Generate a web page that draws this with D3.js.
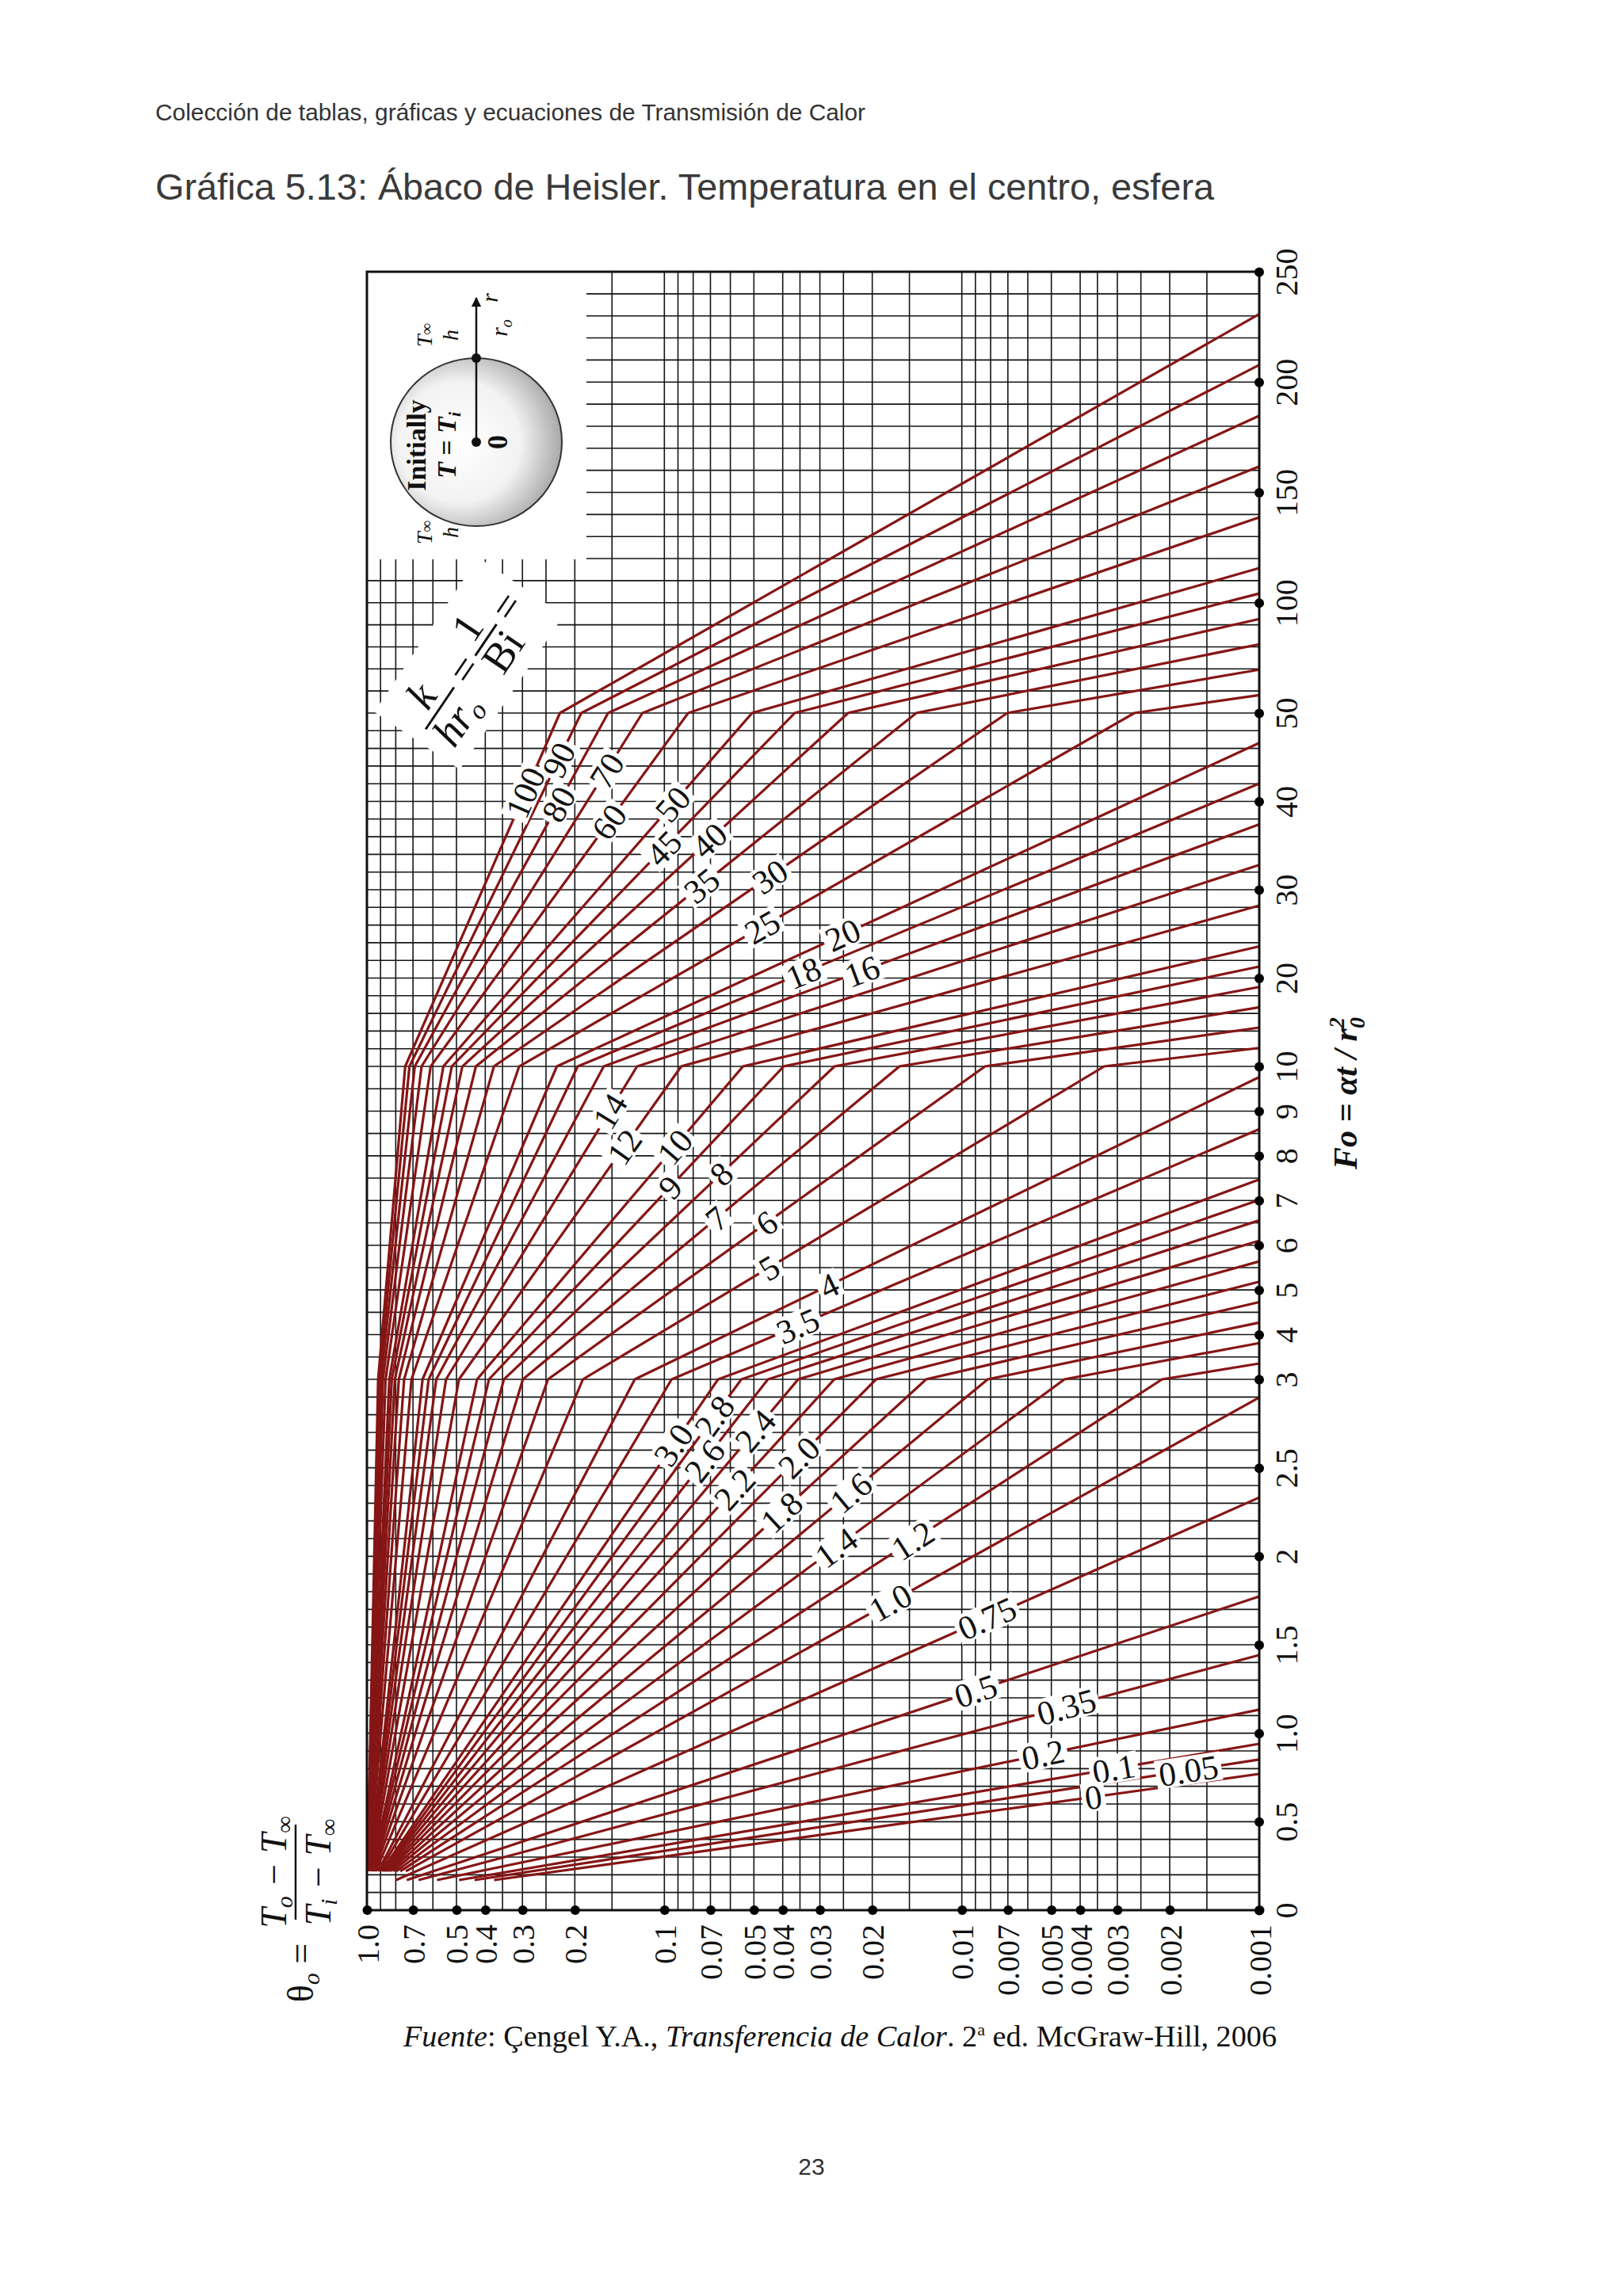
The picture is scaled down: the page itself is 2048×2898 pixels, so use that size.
<!DOCTYPE html>
<html><head><meta charset="utf-8">
<script src="https://cdn.jsdelivr.net/npm/d3@7"></script>
<style>body{margin:0;background:#fff}</style>
</head><body>
<svg id="c" width="2048" height="2898"></svg>
<script>
// ---- data ----
const biInv = [100,90,80,70,60,50,45,40,35,30,25,20,18,16,14,12,10,9,8,7,6,5,4,3.5,3.0,2.8,2.6,2.4,2.2,2.0,1.8,1.6,1.4,1.2,1.0,0.75,0.5,0.35,0.2,0.1,0.05,0];
const biLabels = ["100","90","80","70","60","50","45","40","35","30","25","20","18","16","14","12","10","9","8","7","6","5","4","3.5","3.0","2.8","2.6","2.4","2.2","2.0","1.8","1.6","1.4","1.2","1.0","0.75","0.5","0.35","0.2","0.1","0.05","0"];
// one-term coefficients (lambda1^2 and A1) of each curve
const lambda2 = [.02994,.03326,.03741,.04274,.04983,.05976,.06637,.07463,.08522,.09933,.11904,.1485,.16481,.18516,.21123,.24583,.29409,.3259,.3656,.4164,.4833,.5765,.715,.8131,.937,.999,1.070,1.151,1.247,1.3586,1.4921,1.6564,1.8609,2.1215,2.4674,3.090,4.116,5.117,6.607,8.0446,8.9144,9.8696];
const A1 = [1.003,1.0033,1.0037,1.0043,1.005,1.006,1.0067,1.0075,1.0086,1.01,1.012,1.0149,1.0166,1.0187,1.0214,1.025,1.0298,1.0331,1.0373,1.0425,1.0494,1.0592,1.074,1.0839,1.0975,1.104,1.112,1.121,1.131,1.1441,1.159,1.178,1.201,1.232,1.2732,1.349,1.4793,1.60,1.787,1.9249,1.9781,2.0];
const labelFo = [41,44.7,39.7,43.5,37.7,39.7,34.7,35.6,30.5,31.5,25.8,24.9,20.6,20.8,9.0,8.2,8.2,7.3,7.6,6.6,6.5,5.5,5.1,4.2,2.63,2.79,2.54,2.71,2.38,2.56,2.25,2.36,2.05,2.09,1.74,1.65,1.24,1.15,0.88,0.80,0.79,0.64];
const foBreaks = [0,3,10,50,250];
const foTicks = [0,0.5,1,1.5,2,2.5,3,4,5,6,7,8,9,10,20,30,40,50,100,150,200,250];
const foTickLabels = ["0","0.5","1.0","1.5","2","2.5","3","4","5","6","7","8","9","10","20","30","40","50","100","150","200","250"];
const thTicks = [1,.7,.5,.4,.3,.2,.1,.07,.05,.04,.03,.02,.01,.007,.005,.004,.003,.002,.001];
const thTickLabels = ["1.0","0.7","0.5","0.4","0.3","0.2","0.1","0.07","0.05","0.04","0.03","0.02","0.01","0.007","0.005","0.004","0.003","0.002","0.001"];
const thGridMult = [1,.9,.8,.7,.6,.5,.4,.35,.3,.25,.2,.15];
const foGridSteps = [0.1,0.5,2,10];

// ---- layout ----
const L=463,R=1589,T=343,B=2411;
const svg=d3.select("#c");
const x=d3.scaleLog().domain([1,0.001]).range([L,R]);
const y=d3.scaleLinear().domain(foBreaks).range([B,1741,1346,900,T]);
const RED="#861515", serif="'Liberation Serif','Times New Roman',serif";

// header
svg.append("text").attr("x",196).attr("y",152).attr("font-family","'Liberation Sans',Arial,sans-serif")
 .attr("font-size",29).attr("fill","#333").attr("textLength",896).attr("lengthAdjust","spacingAndGlyphs")
 .text("Colección de tablas, gráficas y ecuaciones de Transmisión de Calor");
svg.append("text").attr("x",196).attr("y",252).attr("font-family","'Liberation Sans',Arial,sans-serif")
 .attr("font-size",46).attr("fill","#3a3a3a").attr("textLength",1336).attr("lengthAdjust","spacingAndGlyphs")
 .text("Gráfica 5.13: Ábaco de Heisler. Temperatura en el centro, esfera");

// grid
const g=svg.append("g");
const vg=[];
[1,.1,.01].forEach(d=>thGridMult.forEach(m=>vg.push(m*d))); vg.push(0.001);
g.selectAll(".v").data(vg).join("line").attr("x1",d=>x(d)).attr("x2",d=>x(d)).attr("y1",T).attr("y2",B)
 .attr("stroke","#151515").attr("stroke-width",1.6);
const hg=[];
foGridSteps.forEach((s,i)=>{for(let v=foBreaks[i];v<foBreaks[i+1]-1e-9;v+=s)hg.push(+v.toFixed(3));}); hg.push(250);
g.selectAll(".h").data(hg).join("line").attr("x1",L).attr("x2",R).attr("y1",d=>y(d)).attr("y2",d=>y(d))
 .attr("stroke","#151515").attr("stroke-width",1.6);
// inset white area
svg.append("rect").attr("x",L).attr("y",T).attr("width",740-L).attr("height",706-T).attr("fill","#fff");

// curves
function theta(i,fo){return A1[i]*Math.exp(-lambda2[i]*fo);}
const line=d3.line().x(d=>x(d[0])).y(d=>y(d[1]));
const curves=biInv.map((b,i)=>{
  const f0 = b>=1?0.22:0.17;
  const fEnd=Math.min(250,Math.log(A1[i]/0.001)/lambda2[i]);
  const fs=[f0,...[3,10,50].filter(f=>f>f0&&f<fEnd),fEnd];
  return fs.map(f=>[Math.min(1,theta(i,f)),f]);
});
svg.append("g").selectAll("path").data(curves).join("path").attr("d",line)
 .attr("fill","none").attr("stroke",RED).attr("stroke-width",3.2);

// curve labels
const lg=svg.append("g");
biInv.forEach((b,i)=>{
  const f=labelFo[i];
  const px=x(theta(i,f)), py=y(f);
  const d=0.01*Math.max(1,f);
  const dx=x(theta(i,f+d))-x(theta(i,f-d)), dy=y(f+d)-y(f-d);
  const ang=Math.atan2(dy,dx)*180/Math.PI;
  const t=lg.append("g").attr("transform",`translate(${px},${py}) rotate(${ang})`);
  const fs=43, w=biLabels[i].replace(".","").length*fs*0.5+(biLabels[i].includes(".")?fs*0.25:0)+8;
  t.append("rect").attr("x",-w/2).attr("y",-fs*0.42).attr("width",w).attr("height",fs*0.84).attr("fill","#fff");
  t.append("text").attr("text-anchor","middle").attr("dy","0.35em").attr("font-family",serif)
   .attr("font-size",fs).attr("fill","#111").text(biLabels[i]);
});

// frame
svg.append("rect").attr("x",L).attr("y",T).attr("width",R-L).attr("height",B-T)
 .attr("fill","none").attr("stroke","#111").attr("stroke-width",3);

// right axis
const ay=svg.append("g").attr("transform",`translate(${R},0)`)
 .call(d3.axisRight(y).tickValues(foTicks).tickFormat((d,i)=>foTickLabels[i]).tickSize(0).tickPadding(0));
ay.select(".domain").remove();
ay.selectAll(".tick text").attr("x",null).attr("dy",null).attr("font-family",serif).attr("font-size",40).attr("fill","#111")
 .attr("text-anchor","middle").attr("transform","translate(48,0) rotate(-90)").attr("y",0);
ay.selectAll(".tick").append("circle").attr("r",6).attr("fill","#000");
// bottom axis
const ax=svg.append("g").attr("transform",`translate(0,${B})`)
 .call(d3.axisBottom(x).tickValues(thTicks).tickFormat((d,i)=>thTickLabels[i]).tickSize(0).tickPadding(0));
ax.select(".domain").remove();
ax.selectAll(".tick text").attr("y",0).attr("dy","0.35em").attr("font-family",serif).attr("font-size",40).attr("fill","#111")
 .attr("text-anchor","end").attr("transform","translate(0,18) rotate(-90)");
ax.selectAll(".tick").append("circle").attr("r",6).attr("fill","#000");

// Fo label
const fo=svg.append("text").attr("transform","translate(1712,1380) rotate(-90)").attr("text-anchor","middle")
 .attr("font-family",serif).attr("font-size",42).attr("font-style","italic").attr("font-weight","bold").attr("fill","#111");
fo.append("tspan").text("Fo = αt / r");
fo.append("tspan").attr("font-size",28).attr("dy",-16).text("2");
fo.append("tspan").attr("font-size",28).attr("dx",-14).attr("dy",26).text("0");

// theta label
const th=svg.append("g").attr("transform","translate(373,2420) rotate(-90)").attr("font-family",serif).attr("fill","#111");
th.append("text").attr("x",-70).attr("y",22).attr("text-anchor","middle").attr("font-size",46)
 .html('<tspan>θ</tspan><tspan font-style="italic" font-size="30" dy="8">o</tspan><tspan dy="-8"> =</tspan>');
th.append("line").attr("x1",-3).attr("x2",117).attr("y1",0).attr("y2",0).attr("stroke","#111").attr("stroke-width",2.5);
th.append("text").attr("x",57).attr("y",-12).attr("text-anchor","middle").attr("font-size",46).attr("font-style","italic")
 .html('<tspan>T</tspan><tspan font-size="30" dy="8">o</tspan><tspan dy="-8"> − T</tspan><tspan font-size="30" dy="8">∞</tspan>');
th.append("text").attr("x",57).attr("y",44).attr("text-anchor","middle").attr("font-size",46).attr("font-style","italic")
 .html('<tspan>T</tspan><tspan font-size="30" dy="8">i</tspan><tspan dy="-8"> − T</tspan><tspan font-size="30" dy="8">∞</tspan>');

// k/hr label
const kb=svg.append("g").attr("transform","translate(555,894) rotate(-56)").attr("font-family",serif).attr("fill","#111");
kb.append("rect").attr("x",-50).attr("y",-66).attr("width",235).attr("height",130).attr("fill","#fff");
kb.append("text").attr("x",0).attr("y",-10).attr("text-anchor","middle").attr("font-size",54).attr("font-style","italic").text("k");
kb.append("line").attr("x1",-32).attr("x2",32).attr("y1",0).attr("y2",0).attr("stroke","#111").attr("stroke-width",3);
kb.append("text").attr("x",0).attr("y",44).attr("text-anchor","middle").attr("font-size",54).attr("font-style","italic")
 .html('hr<tspan font-size="34" dy="8">o</tspan>');
kb.append("text").attr("x",58).attr("y",16).attr("text-anchor","middle").attr("font-size",54).text("=");
kb.append("text").attr("x",104).attr("y",-10).attr("text-anchor","middle").attr("font-size",54).text("1");
kb.append("line").attr("x1",80).attr("x2",128).attr("y1",0).attr("y2",0).attr("stroke","#111").attr("stroke-width",3);
kb.append("text").attr("x",104).attr("y",44).attr("text-anchor","middle").attr("font-size",54).text("Bi");
kb.append("text").attr("x",154).attr("y",16).attr("text-anchor","middle").attr("font-size",54).text("=");

// inset sphere
const defs=svg.append("defs");
const rg=defs.append("radialGradient").attr("id","sg").attr("cx","0.4").attr("cy","0.5").attr("r","0.6");
rg.append("stop").attr("offset","0").attr("stop-color","#fff");
rg.append("stop").attr("offset","0.6").attr("stop-color","#f2f2f2");
rg.append("stop").attr("offset","1").attr("stop-color","#a8a8a8");
const ins=svg.append("g");
ins.append("ellipse").attr("cx",601).attr("cy",558).attr("rx",108).attr("ry",106).attr("fill","url(#sg)").attr("stroke","#333").attr("stroke-width",2);
defs.append("marker").attr("id","ar").attr("viewBox","0 0 10 10").attr("refX",9).attr("refY",5).attr("markerWidth",5).attr("markerHeight",5).attr("orient","auto")
 .append("path").attr("d","M0,0L10,5L0,10z").attr("fill","#111");
ins.append("line").attr("x1",601).attr("x2",601).attr("y1",558).attr("y2",376).attr("stroke","#111").attr("stroke-width",2.5).attr("marker-end","url(#ar)");
ins.append("circle").attr("cx",601).attr("cy",558).attr("r",6).attr("fill","#111");
ins.append("circle").attr("cx",601).attr("cy",452).attr("r",6).attr("fill","#111");
function rt(xx,yy,s,html,opt={}){
  ins.append("text").attr("transform",`translate(${xx},${yy}) rotate(-90)`).attr("text-anchor","middle")
   .attr("font-family",serif).attr("font-size",s).attr("fill","#111").attr("font-style",opt.it?"italic":null)
   .attr("font-weight",opt.b?"bold":null).html(html);
}
rt(537,562,34,"Initially",{b:true});
rt(575,562,34,'<tspan font-style="italic">T</tspan> = <tspan font-style="italic">T</tspan><tspan font-style="italic" font-size="22" dy="6">i</tspan>',{b:true});
rt(640,558,36,"0",{b:true});
rt(640,414,30,'r<tspan font-size="20" dy="6">o</tspan>',{it:true});
rt(628,376,30,"r",{it:true});
rt(545,423,28,'T<tspan font-size="20">∞</tspan>',{it:true});
rt(578,423,28,"h",{it:true});
rt(545,672,28,'T<tspan font-size="20">∞</tspan>',{it:true});
rt(578,672,28,"h",{it:true});

// source
svg.append("text").attr("x",509).attr("y",2583).attr("font-family",serif).attr("font-size",38).attr("fill","#111")
 .attr("textLength",1102).attr("lengthAdjust","spacingAndGlyphs")
 .html('<tspan font-style="italic">Fuente</tspan>: Çengel Y.A., <tspan font-style="italic">Transferencia de Calor</tspan>. 2<tspan font-size="22" dy="-14">a</tspan><tspan dy="14"> ed. McGraw-Hill, 2006</tspan>');
// page number
svg.append("text").attr("x",1024).attr("y",2745).attr("text-anchor","middle").attr("font-family","'Liberation Sans',Arial,sans-serif")
 .attr("font-size",30).attr("fill","#333").text("23");
</script>
</body></html>
